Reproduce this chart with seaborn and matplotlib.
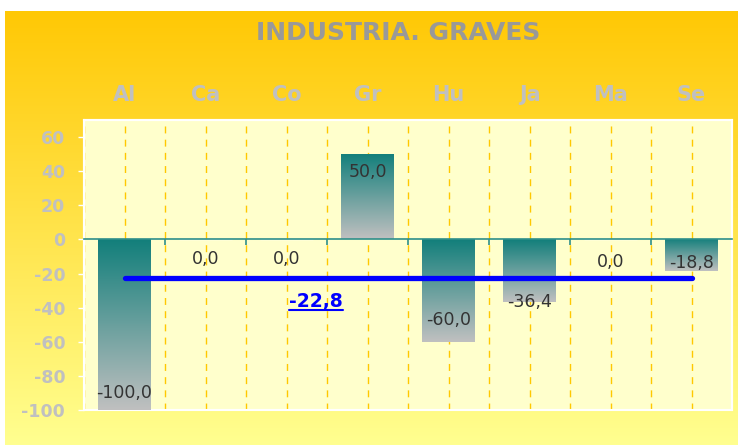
import numpy as np
import matplotlib
matplotlib.use("Agg")
import matplotlib.pyplot as plt
import seaborn as sns
from matplotlib.colors import LinearSegmentedColormap
from matplotlib.lines import Line2D
from matplotlib.patches import Rectangle
from matplotlib.transforms import IdentityTransform

# Data
categories = ["Al", "Ca", "Co", "Gr", "Hu", "Ja", "Ma", "Se"]
values = [-100.0, 0.0, 0.0, 50.0, -60.0, -36.4, 0.0, -18.8]
mean_value = -22.8
title = "INDUSTRIA. GRAVES"
y_ticks = [-100, -80, -60, -40, -20, 0, 20, 40, 60]

# where each data label sits, in points from the bar end
label_offsets = [12, -14, -14, -13, 16, 0, -16, 6]

sns.set_style("white")
plt.rcParams["font.family"] = ["DejaVu Sans"]

W, H = 738, 445
fig = plt.figure(figsize=(W / 100, H / 100), dpi=100)
fig.patch.set_facecolor("white")

# orange -> pale yellow background
bg = fig.add_axes([5 / W, 0, 1 - 5 / W, 1 - 11 / H])
bg_cmap = LinearSegmentedColormap.from_list("bg", ["#FFC805", "#FFFF90"])
bg.imshow(np.linspace(0, 1, 256).reshape(-1, 1), cmap=bg_cmap, aspect="auto")
bg.axis("off")

ax = fig.add_axes([84 / W, 1 - 410 / H, (732 - 84) / W, (410 - 120) / H])
ax.set_facecolor("#FFFFCC")

sns.barplot(x=categories, y=values, width=0.65, color="#127F7B",
            errorbar=None, ax=ax, zorder=3)

# teal -> silver gradient inside every bar
bar_cmap = LinearSegmentedColormap.from_list("bar", ["#127F7B", "#C0C0C0"])
grad = np.linspace(0, 1, 256).reshape(-1, 1)
for patch in ax.patches:
    x0, y0 = patch.get_x(), patch.get_y()
    w, h = patch.get_width(), patch.get_height()
    if h == 0:
        continue
    lo, hi = min(y0, y0 + h), max(y0, y0 + h)
    im = ax.imshow(grad, cmap=bar_cmap, aspect="auto", origin="upper",
                   extent=(x0, x0 + w, lo, hi), zorder=3)
    im.set_clip_path(patch)
    patch.set_facecolor("none")
    patch.set_edgecolor("none")

# average line
ax.plot([0, len(categories) - 1], [mean_value, mean_value], color="#0000FF",
        lw=3.8, solid_capstyle="round", zorder=4)
mean_txt = ax.text(2.36, -36.5, f"{mean_value:.1f}".replace(".", ","),
                   color="#0000FF", fontsize=13.5, fontweight="bold",
                   ha="center", va="center", zorder=5)

# data labels
for i, (v, off) in enumerate(zip(values, label_offsets)):
    ax.annotate(f"{v:.1f}".replace(".", ","), xy=(i, v), xytext=(0, off),
                textcoords="offset points", ha="center", va="center",
                fontsize=12.5, color="#333333", zorder=6)

ax.set_xlim(-0.5, len(categories) - 0.5)
ax.set_ylim(-100, 70)

# x axis: labels on top, zero line with small ticks between categories
ax.set_xticks(range(len(categories)))
ax.set_xticklabels(categories)
ax.set_xticks(np.arange(-0.5, len(categories), 1.0), minor=True)
ax.spines["bottom"].set_position(("data", 0))
ax.spines["bottom"].set_color("#2E8F8A")
ax.spines["bottom"].set_linewidth(1.2)
ax.spines["bottom"].set_zorder(3.5)
ax.tick_params(axis="x", which="major", bottom=False, top=False,
               labelbottom=False, labeltop=True, pad=7,
               labelsize=15, labelcolor="#C0C0C0")
ax.tick_params(axis="x", which="minor", bottom=True, top=False,
               direction="out", length=4, width=1.2, color="#2E8F8A")
for lab in ax.get_xticklabels():
    lab.set_fontweight("bold")

ax.grid(axis="x", which="both", color="#FFC800", linestyle=(0, (5, 4.5)), lw=1)
ax.set_axisbelow(True)

# y axis
ax.set_yticks(y_ticks)
ax.set_yticklabels([str(t) for t in y_ticks])
ax.tick_params(axis="y", left=True, length=4.5, width=1, color="white",
               pad=9, labelsize=12.5, labelcolor="#C0C0C0")
for lab in ax.get_yticklabels():
    lab.set_fontweight("bold")

for side in ["top", "left", "right"]:
    ax.spines[side].set_color("white")
    ax.spines[side].set_linewidth(1.5)
ax.add_patch(Rectangle((0, 0), 1, 1, transform=ax.transAxes, fill=False,
                       edgecolor="white", lw=1.5, zorder=1, clip_on=False))

fig.text(398 / W, 1 - 33 / H, title, ha="center", va="center",
         fontsize=18, fontweight="bold", color="#999999")

# underline the average label
fig.canvas.draw()
bb = mean_txt.get_window_extent()
fig.add_artist(Line2D([bb.x0, bb.x1], [bb.y0 + 1, bb.y0 + 1],
                      transform=IdentityTransform(), color="#0000FF", lw=1.5))

fig.savefig("out.png", dpi=100)
